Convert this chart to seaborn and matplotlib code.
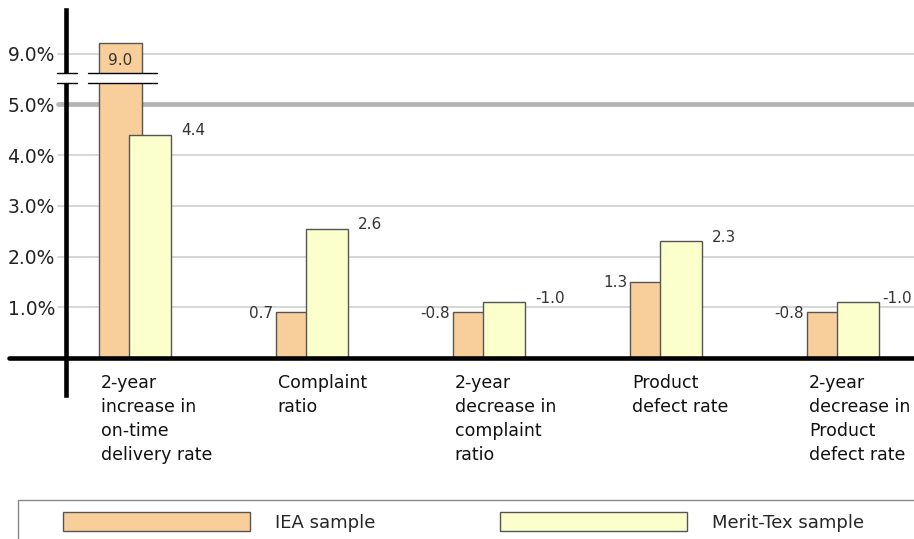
import matplotlib
matplotlib.use("Agg")
import matplotlib.pyplot as plt
import seaborn as sns
import pandas as pd
import numpy as np
from matplotlib.patches import Patch, Rectangle

sns.set_style("white")
plt.rcParams["font.family"] = "DejaVu Sans"

categories = [
    "2-year\nincrease in\non-time\ndelivery rate",
    "Complaint\nratio",
    "2-year\ndecrease in\ncomplaint\nratio",
    "Product\ndefect rate",
    "2-year\ndecrease in\nProduct\ndefect rate",
]
# bar heights as drawn (%), and the value labels printed next to them
iea_height = [9.2, 0.9, 0.9, 1.5, 0.9]
merit_height = [4.4, 2.55, 1.1, 2.3, 1.1]
iea_labels = ["9.0", "0.7", "-0.8", "1.3", "-0.8"]
merit_labels = ["4.4", "2.6", "-1.0", "2.3", "-1.0"]
ytick_values = [1, 2, 3, 4, 5, 9]
ytick_labels = ["1.0%", "2.0%", "3.0%", "4.0%", "5.0%", "9.0%"]
series_names = ["IEA sample", "Merit-Tex sample"]

IEA_COLOR = "#F8CF9A"
MERIT_COLOR = "#FAFFCC"
EDGE = "#555555"

# broken axis: everything above 5.3 is pulled down by 3
BREAK_AT, BREAK_SHIFT = 5.3, 3.0


def squash(v):
    v = np.asarray(v, dtype=float)
    return np.where(v > BREAK_AT, v - BREAK_SHIFT, v)


pos = np.arange(len(categories), dtype=float)
iea_w, merit_w, offset = 0.243, 0.237, 0.164

fig = plt.figure(figsize=(9.14, 5.39), dpi=100)
ax = fig.add_axes([0, 144 / 539, 1, 385 / 539])

df_iea = pd.DataFrame({"x": pos, "y": squash(iea_height)})
df_merit = pd.DataFrame({"x": pos + offset, "y": squash(merit_height)})

sns.barplot(data=df_iea, x="x", y="y", native_scale=True, width=iea_w,
            color=IEA_COLOR, saturation=1, edgecolor=EDGE, linewidth=1,
            errorbar=None, ax=ax, zorder=2)
sns.barplot(data=df_merit, x="x", y="y", native_scale=True, width=merit_w,
            color=MERIT_COLOR, saturation=1, edgecolor=EDGE, linewidth=1,
            errorbar=None, ax=ax, zorder=2)

ax.set_xlim(-0.681, 4.483)
ax.set_ylim(-0.73, 6.86)
ax.set_xlabel("")
ax.set_ylabel("")
ax.set_xticks([])

# gridlines
tick_pos = squash(ytick_values)
for v, p in zip(ytick_values, tick_pos):
    if v == 5:
        ax.axhline(p, xmin=58 / 914, color="#b4b4b4", lw=3.4, zorder=0.5)
    else:
        ax.axhline(p, xmin=58 / 914, color="#cfcfcf", lw=1.2, zorder=0.5)

ax.set_yticks(tick_pos)
ax.set_yticklabels(ytick_labels)
ax.tick_params(axis="y", length=0, pad=8, labelsize=13.5, labelcolor="#222222")

for s in ["top", "right", "bottom"]:
    ax.spines[s].set_visible(False)
ax.spines["left"].set_position(("axes", 66 / 914))
ax.spines["left"].set_linewidth(3.3)
ax.spines["left"].set_color("black")
ax.spines["left"].set_zorder(3)

# x axis line
ax.axhline(0, xmin=9 / 914, color="black", lw=3.3, zorder=4)

# axis break
b_lo, b_hi = 5.42, 5.62
ax.add_patch(Rectangle((-0.37, b_lo), 0.6, b_hi - b_lo, facecolor="white",
                       edgecolor="none", zorder=5, clip_on=False))
for yb in (b_lo, b_hi):
    ax.plot([-0.359, -0.246], [yb, yb], color="black", lw=1, zorder=6, clip_on=False)
    ax.plot([-0.184, 0.206], [yb, yb], color="black", lw=1, zorder=6, clip_on=False)

# value labels
iea_plot = squash(iea_height)
merit_plot = squash(merit_height)
last = len(categories) - 1
for i in range(len(categories)):
    if iea_height[i] > BREAK_AT:
        ax.text(pos[i], iea_plot[i] - 0.33, iea_labels[i], ha="center", va="center",
                fontsize=11, color="#333333", zorder=7)
    else:
        ax.text(pos[i] - iea_w / 2 - 0.015, iea_plot[i] - 0.02, iea_labels[i],
                ha="right", va="center", fontsize=11, color="#333333")
    gap = 0.06 if i < last else 0.02
    ax.text(pos[i] + offset + merit_w / 2 + gap, merit_plot[i] + 0.08, merit_labels[i],
            ha="left", va="center", fontsize=11, color="#333333")

# category labels
for i, c in enumerate(categories):
    ax.text(pos[i] - iea_w / 2 + 0.01, -0.32, c, ha="left", va="top",
            fontsize=12.5, color="#111111", linespacing=1.42)

# legend box
fig.add_artist(Rectangle((18 / 914, -0.02), 1.0, (539 - 500) / 539 + 0.02,
                         transform=fig.transFigure, facecolor="white",
                         edgecolor="#888888", lw=1))
handles = [Patch(facecolor=IEA_COLOR, edgecolor=EDGE, lw=1),
           Patch(facecolor=MERIT_COLOR, edgecolor=EDGE, lw=1)]
fig.legend(handles, series_names, loc="center left",
           bbox_to_anchor=(63 / 914, 1 - 522 / 539), ncol=2, frameon=False,
           fontsize=13, handlelength=10.35, handleheight=1.2,
           handletextpad=1.38, columnspacing=6.9, borderpad=0, borderaxespad=0)

fig.savefig("out.png", dpi=100)
